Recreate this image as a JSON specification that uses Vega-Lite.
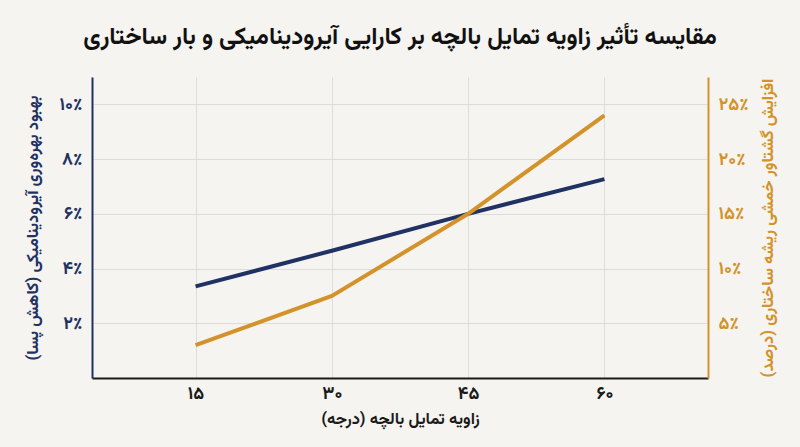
{
  "$schema": "https://vega.github.io/schema/vega-lite/v6.json",
  "width": 616,
  "height": 301,
  "autosize": {"type": "none"},
  "padding": {"left": 92, "top": 77, "right": 92, "bottom": 69},
  "background": "#f5f4f0",
  "config": {
    "locale": {
      "number": {
        "decimal": ".",
        "thousands": ",",
        "grouping": [3],
        "currency": ["", ""],
        "numerals": ["۰", "۱", "۲", "۳", "۴", "۵", "۶", "۷", "۸", "۹"]
      }
    },
    "font": "Vazirmatn, 'DejaVu Sans', sans-serif",
    "view": {"stroke": null},
    "axis": {
      "ticks": false,
      "labelFontSize": 18,
      "labelFontWeight": "bold",
      "titleFontSize": 16.5,
      "titleFontWeight": "bold",
      "gridColor": "#dcdcdc",
      "gridWidth": 1,
      "domainWidth": 2
    }
  },
  "title": {
    "text": "مقایسه تأثیر زاویه تمایل بالچه بر کارایی آیرودینامیکی و بار ساختاری",
    "fontSize": 24,
    "fontWeight": "bold",
    "color": "#111111",
    "anchor": "middle",
    "offset": 28
  },
  "data": {
    "values": [
      {"angle": 15, "aero": 3.35, "moment": 3.0},
      {"angle": 30, "aero": 4.65, "moment": 7.5},
      {"angle": 45, "aero": 6.0, "moment": 15.0},
      {"angle": 60, "aero": 7.27, "moment": 24.0}
    ]
  },
  "encoding": {
    "x": {
      "field": "angle",
      "type": "quantitative",
      "scale": {"domain": [3.6, 71.4], "nice": false, "zero": false},
      "axis": {
        "values": [15, 30, 45, 60],
        "format": "d",
        "grid": true,
        "domainColor": "#1a1a1a",
        "labelColor": "#1a1a1a",
        "labelPadding": 6,
        "title": "زاویه تمایل بالچه (درجه)",
        "titleColor": "#1a1a1a",
        "titlePadding": 8
      }
    }
  },
  "layer": [
    {
      "mark": {"type": "line", "color": "#1f3263", "strokeWidth": 4},
      "encoding": {
        "y": {
          "field": "aero",
          "type": "quantitative",
          "scale": {"domain": [0, 11], "nice": false},
          "axis": {
            "orient": "left",
            "values": [2, 4, 6, 8, 10],
            "format": "d",
            "labelExpr": "datum.label + '٪'",
            "grid": true,
            "domainColor": "#1f3263",
            "labelColor": "#1f3263",
            "labelPadding": 10,
            "title": "بهبود بهره‌وری آیرودینامیکی (کاهش پسا)",
            "titleColor": "#1f3263",
            "titlePadding": 19
          }
        }
      }
    },
    {
      "mark": {"type": "line", "color": "#d4922a", "strokeWidth": 4},
      "encoding": {
        "y": {
          "field": "moment",
          "type": "quantitative",
          "scale": {"domain": [0, 27.5], "nice": false},
          "axis": {
            "orient": "right",
            "values": [5, 10, 15, 20, 25],
            "format": "d",
            "labelExpr": "datum.label + '٪'",
            "grid": false,
            "domainColor": "#d4922a",
            "labelColor": "#d4922a",
            "labelPadding": 10,
            "title": "افزایش گشتاور خمشی ریشه ساختاری (درصد)",
            "titleColor": "#d4922a",
            "titleAngle": -90,
            "titleBaseline": "top",
            "titlePadding": 11
          }
        }
      }
    }
  ],
  "resolve": {"scale": {"y": "independent"}}
}
